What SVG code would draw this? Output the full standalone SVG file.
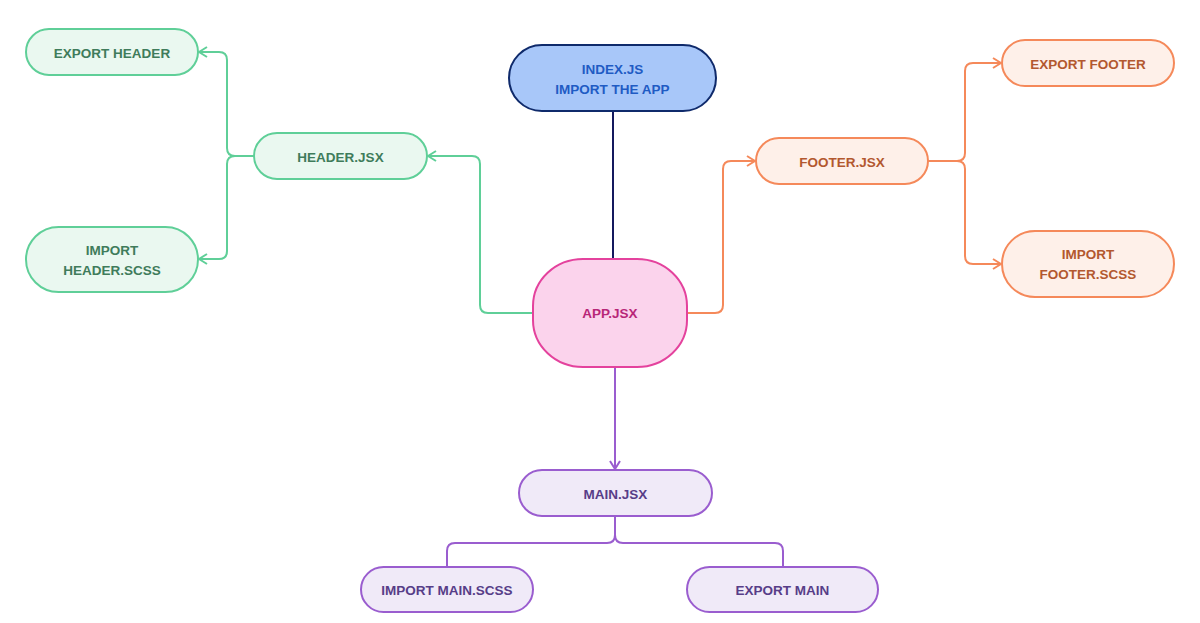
<svg xmlns="http://www.w3.org/2000/svg" width="1200" height="623" viewBox="0 0 1200 623">
<style>
text{font-family:"Liberation Sans",Arial,sans-serif;font-weight:bold;font-size:13.5px;text-anchor:middle}
.g rect{fill:#eaf8f0;stroke:#5fcf98;stroke-width:2}
.g text{fill:#3f7c5b}
.o rect{fill:#fef0e9;stroke:#f5895a;stroke-width:2}
.o text{fill:#b3582f}
.p rect{fill:#f0eaf8;stroke:#9a5dcf;stroke-width:2}
.p text{fill:#573d88}
.c path{fill:none;stroke-width:2}
</style>
<defs>
<marker id="ag" viewBox="0 0 10 12" refX="9" refY="6" markerWidth="10" markerHeight="12" markerUnits="userSpaceOnUse" orient="auto"><path d="M1,1 L9,6 L1,11" fill="none" stroke="#5fcf98" stroke-width="2"/></marker>
<marker id="ao" viewBox="0 0 10 12" refX="9" refY="6" markerWidth="10" markerHeight="12" markerUnits="userSpaceOnUse" orient="auto"><path d="M1,1 L9,6 L1,11" fill="none" stroke="#f5895a" stroke-width="2"/></marker>
<marker id="ap" viewBox="0 0 10 12" refX="9" refY="6" markerWidth="10" markerHeight="12" markerUnits="userSpaceOnUse" orient="auto"><path d="M1,1 L9,6 L1,11" fill="none" stroke="#9a5dcf" stroke-width="2"/></marker>
</defs>
<rect width="1200" height="623" fill="#ffffff"/>
<g id="connectors" class="c">
<path d="M613,111 V259" stroke="#14195e"/>
<path d="M533,313 H488 Q480,313 480,305 V164 Q480,156 472,156 H428" stroke="#5fcf98" marker-end="url(#ag)"/>
<path d="M254,156 H235 Q227,156 227,148 V60 Q227,52 219,52 H199" stroke="#5fcf98" marker-end="url(#ag)"/>
<path d="M254,156 H235 Q227,156 227,164 V251 Q227,259 219,259 H199" stroke="#5fcf98" marker-end="url(#ag)"/>
<path d="M687,313 H715 Q723,313 723,305 V169 Q723,161 731,161 H755" stroke="#f5895a" marker-end="url(#ao)"/>
<path d="M928,161 H957 Q965,161 965,153 V71 Q965,63 973,63 H1001" stroke="#f5895a" marker-end="url(#ao)"/>
<path d="M928,161 H957 Q965,161 965,169 V256 Q965,264 973,264 H1001" stroke="#f5895a" marker-end="url(#ao)"/>
<path d="M615,367 V469" stroke="#9a5dcf" marker-end="url(#ap)"/>
<path d="M615,516 V535 Q615,543 607,543 H455 Q447,543 447,551 V567" stroke="#9a5dcf"/>
<path d="M615,516 V535 Q615,543 623,543 H775 Q783,543 783,551 V567" stroke="#9a5dcf"/>
</g>
<g id="index">
<rect x="509" y="45" width="207" height="66" rx="33" fill="#a8c7f9" stroke="#0f2a6b" stroke-width="2"/>
<text x="612.5" y="74" fill="#1f5bc4">INDEX.JS</text>
<text x="612.5" y="94" fill="#1f5bc4">IMPORT THE APP</text>
</g>
<g id="app">
<rect x="533" y="259" width="154" height="108" rx="50" ry="47" fill="#fbd3ec" stroke="#e4429d" stroke-width="2"/>
<text x="610" y="318" fill="#b82678">APP.JSX</text>
</g>
<g id="header" class="g">
<rect x="254" y="133" width="173" height="46" rx="23"/>
<text x="340.5" y="161.5">HEADER.JSX</text>
</g>
<g id="export-header" class="g">
<rect x="26" y="29" width="172" height="46" rx="23"/>
<text x="112" y="57.5">EXPORT HEADER</text>
</g>
<g id="import-header" class="g">
<rect x="26" y="227" width="172" height="65" rx="32.5"/>
<text x="112" y="255">IMPORT</text>
<text x="112" y="275">HEADER.SCSS</text>
</g>
<g id="footer" class="o">
<rect x="756" y="138" width="172" height="46" rx="23"/>
<text x="842" y="166.5">FOOTER.JSX</text>
</g>
<g id="export-footer" class="o">
<rect x="1002" y="40" width="172" height="46" rx="23"/>
<text x="1088" y="68.5">EXPORT FOOTER</text>
</g>
<g id="import-footer" class="o">
<rect x="1002" y="231" width="172" height="66" rx="33"/>
<text x="1088" y="259">IMPORT</text>
<text x="1088" y="279">FOOTER.SCSS</text>
</g>
<g id="main" class="p">
<rect x="519" y="470" width="193" height="46" rx="23"/>
<text x="615.5" y="498.5">MAIN.JSX</text>
</g>
<g id="import-main" class="p">
<rect x="361" y="567" width="172" height="45" rx="22.5"/>
<text x="447" y="595">IMPORT MAIN.SCSS</text>
</g>
<g id="export-main" class="p">
<rect x="687" y="567" width="191" height="45" rx="22.5"/>
<text x="782.5" y="595">EXPORT MAIN</text>
</g>
</svg>
